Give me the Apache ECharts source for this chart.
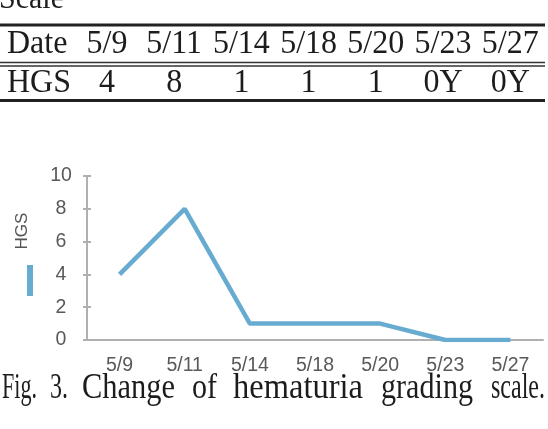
<!DOCTYPE html>
<html>
<head>
<meta charset="utf-8">
<script src="https://cdn.jsdelivr.net/npm/echarts@6/dist/echarts.min.js"></script>
<style>
html,body{margin:0;padding:0;background:#fff;}
#chart{width:548px;height:429px;}
</style>
</head>
<body>
<div id="chart"></div>
<script>
// ---- data ----
const categories = ['5/9', '5/11', '5/14', '5/18', '5/20', '5/23', '5/27'];
const hgsValues = [4, 8, 1, 1, 1, 0, 0];
const tableHeader = 'Date';
const tableRowLabel = 'HGS';
const tableHGS = ['4', '8', '1', '1', '1', '0Y', '0Y'];
const yMin = 0, yMax = 10, yInterval = 2;
const seriesName = 'HGS';
const topFragment = 'Scale';
const captionWords = ['Fig.', '3.', 'Change', 'of', 'hematuria', 'grading', 'scale.'];

// ---- layout ----
const serif = '"Liberation Serif", "DejaVu Serif", serif';
const sans = '"Liberation Sans", Arial, sans-serif';
const ink = '#1c1c1c';
const colStart = 107, colStep = 67.2;
const captionSpans = [[2, 37], [50, 68], [82, 175], [192, 217], [233, 363], [381, 473], [491, 545]];

const measureCtx = document.createElement('canvas').getContext('2d');
function txt(x, y, text, size, family, align, extra) {
  const o = {
    type: 'text', x: x, y: y, silent: true,
    style: {
      text: text, font: size + 'px ' + family, fill: ink,
      textAlign: align, align: align,
      textVerticalAlign: 'middle', verticalAlign: 'middle'
    }
  };
  return Object.assign(o, extra || {});
}

const graphics = [];
// cut-off heading fragment
graphics.push(txt(-1, -1, topFragment, 30, serif, 'left', {scaleY: 1.08, originX: 0, originY: 0}));
// table rules
graphics.push({type: 'line', silent: true, shape: {x1: 0, y1: 25, x2: 545, y2: 25}, style: {stroke: '#222', lineWidth: 3}});
graphics.push({type: 'line', silent: true, shape: {x1: 0, y1: 62.5, x2: 545, y2: 62.5}, style: {stroke: '#333', lineWidth: 1.6}});
graphics.push({type: 'line', silent: true, shape: {x1: 0, y1: 66, x2: 545, y2: 66}, style: {stroke: '#333', lineWidth: 1.6}});
graphics.push({type: 'line', silent: true, shape: {x1: 0, y1: 100.5, x2: 545, y2: 100.5}, style: {stroke: '#222', lineWidth: 3}});
// table text
const tableExtra = {scaleY: 1.08, originX: 0, originY: 0};
graphics.push(txt(7, 44, tableHeader, 32, serif, 'left', tableExtra));
graphics.push(txt(7, 82.5, tableRowLabel, 32, serif, 'left', tableExtra));
categories.forEach(function (c, i) {
  graphics.push(txt(colStart + colStep * i, 44, c, 32, serif, 'center', tableExtra));
  graphics.push(txt(colStart + colStep * i, 82.5, tableHGS[i], 32, serif, 'center', tableExtra));
});
// rotated y name
graphics.push({
  type: 'text', x: 22, y: 231, rotation: Math.PI / 2, silent: true,
  style: {text: seriesName, font: '17px ' + sans, fill: '#555',
    textAlign: 'center', align: 'center', textVerticalAlign: 'middle', verticalAlign: 'middle'}
});
// caption, each word fitted to its span
const capSize = 29;
measureCtx.font = capSize + 'px ' + serif;
captionWords.forEach(function (w, i) {
  const span = captionSpans[i];
  const natural = measureCtx.measureText(w).width;
  const sx = (span[1] - span[0]) / natural;
  graphics.push(txt(span[0], 388.5, w, capSize, serif, 'left', {scaleX: sx, scaleY: 1.2, originX: 0, originY: 0}));
});

const lineColor = '#67acd0';
const chart = echarts.init(document.getElementById('chart'), null, {renderer: 'canvas'});
chart.setOption({
  animation: false,
  backgroundColor: '#fff',
  grid: {left: 87, right: 5, top: 176, bottom: 89, containLabel: false, outerBoundsMode: 'none'},
  legend: {
    show: true, left: 27, top: 265, orient: 'vertical', padding: 0,
    data: [{name: seriesName, icon: 'rect'}],
    itemWidth: 6, itemHeight: 31, itemGap: 0,
    formatter: function () { return ''; },
    selectedMode: false
  },
  xAxis: {
    type: 'category', data: categories, boundaryGap: true,
    axisLine: {show: true, lineStyle: {color: '#b0b0b0', width: 2}},
    axisTick: {show: false},
    axisLabel: {color: '#595959', fontSize: 19.5, fontFamily: sans, margin: 16, interval: 0},
    splitLine: {show: false}
  },
  yAxis: [{
    type: 'value', min: yMin, max: yMax, interval: yInterval,
    axisLine: {show: true, lineStyle: {color: '#b0b0b0', width: 2}},
    axisTick: {show: true, length: 4, lineStyle: {color: '#b0b0b0', width: 2}},
    axisLabel: {color: '#595959', fontSize: 19.5, fontFamily: sans, margin: 26, align: 'center'},
    splitLine: {show: false}
  }, {
    type: 'value', min: yMin, max: yMax, interval: yInterval, position: 'left',
    axisLine: {show: false},
    axisTick: {show: true, inside: true, length: 4, lineStyle: {color: '#b0b0b0', width: 2}},
    axisLabel: {show: false},
    splitLine: {show: false}
  }],
  series: [{
    name: seriesName, type: 'line', data: hgsValues, yAxisIndex: 0,
    symbol: 'none', smooth: false,
    lineStyle: {color: lineColor, width: 4.5},
    itemStyle: {color: lineColor}
  }],
  graphic: graphics
});
</script>
</body>
</html>
